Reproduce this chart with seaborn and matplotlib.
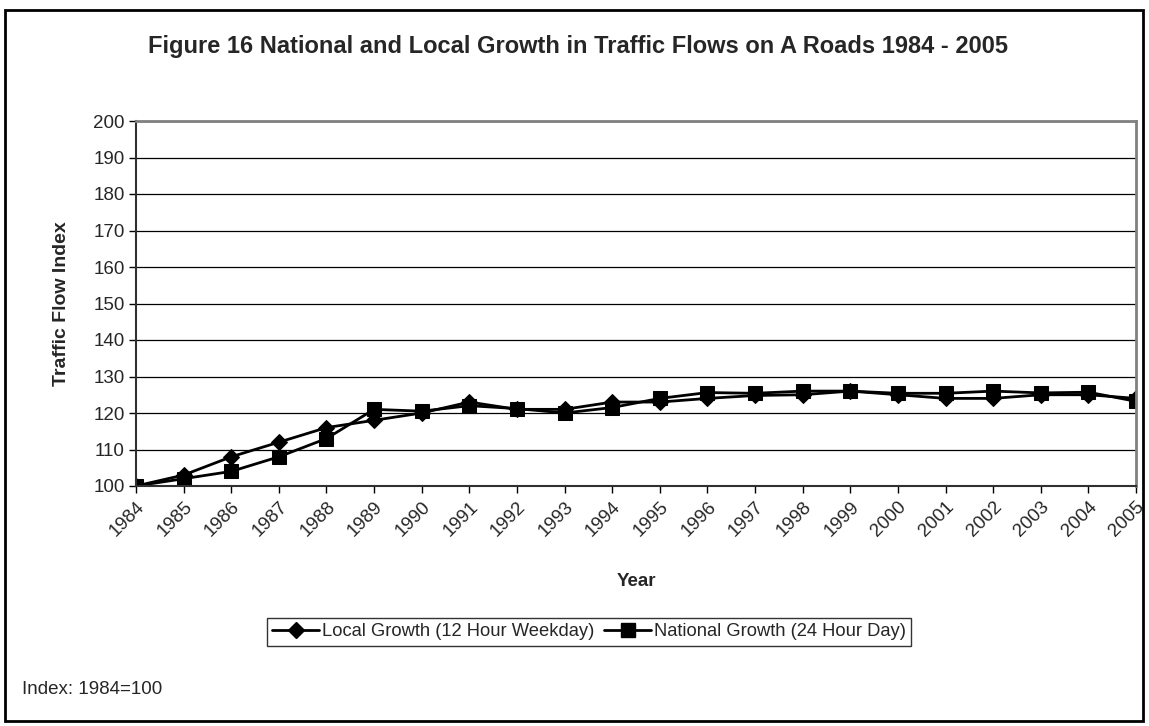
import matplotlib
matplotlib.use("Agg")
import matplotlib.pyplot as plt
import seaborn as sns
import pandas as pd
from matplotlib.patches import Rectangle
from matplotlib.lines import Line2D

years = list(range(1984, 2006))
local_growth = [100, 103, 108, 112, 116, 118, 120, 123, 121, 121, 123, 123,
                124, 124.8, 125, 126, 125, 124, 124, 125, 125, 124]
national_growth = [100, 102, 104, 108, 113, 121, 120.5, 122, 121.2, 120, 121.5, 124,
                   125.6, 125.4, 126, 126, 125.4, 125.4, 126, 125.5, 125.7, 123.2]
local_label = "Local Growth (12 Hour Weekday)"
national_label = "National Growth (24 Hour Day)"
title = "Figure 16 National and Local Growth in Traffic Flows on A Roads 1984 - 2005"

sns.set_style("white")
plt.rcParams['font.family'] = ['Liberation Sans', 'DejaVu Sans']

df = pd.DataFrame({"Year": years, "Local": local_growth, "National": national_growth})

W, H = 1149, 726
fig = plt.figure(figsize=(W / 100, H / 100), dpi=100)
ax_l, ax_r, ax_t, ax_b = 136, 1136, 121, 486
ax = fig.add_axes([ax_l / W, 1 - ax_b / H, (ax_r - ax_l) / W, (ax_b - ax_t) / H])

sns.lineplot(data=df, x="Year", y="Local", ax=ax, color="black", lw=2,
             marker="D", markersize=7.8, markeredgecolor="black", label=local_label, legend=False)
sns.lineplot(data=df, x="Year", y="National", ax=ax, color="black", lw=2,
             marker="s", markersize=10, markeredgecolor="black", label=national_label, legend=False)

ax.set_xlim(1984, 2005)
ax.set_ylim(100, 200)
ax.set_yticks(range(100, 201, 10))
ax.set_xticks(years)
ax.set_xticklabels([str(y) for y in years], rotation=45, ha="right",
                   rotation_mode="anchor", fontsize=13.5)
ax.tick_params(axis="y", labelsize=13.5, length=5, width=1, color="black", direction="out", left=True, pad=3)
ax.tick_params(axis="x", length=5, width=1, color="black", direction="out", bottom=True, pad=4)
ax.grid(axis="y", color="black", lw=0.9)
ax.set_axisbelow(True)
for s in ["top", "right"]:
    ax.spines[s].set_color("#808080")
    ax.spines[s].set_linewidth(2)
for s in ["left", "bottom"]:
    ax.spines[s].set_color("#303030")
    ax.spines[s].set_linewidth(1.5)

ax.set_xlabel("Year", fontsize=13.5, fontweight="bold")
ax.xaxis.set_label_coords(0.5, -(582 - ax_b) / (ax_b - ax_t))
ax.xaxis.label.set_va("center")
ax.set_ylabel("Traffic Flow Index", fontsize=14, fontweight="bold")
ax.yaxis.set_label_coords(-(ax_l - 62) / (ax_r - ax_l), 0.5)
ax.yaxis.label.set_va("center")

fig.text(578 / W, 1 - 46 / H, title, ha="center", va="center", fontsize=17, fontweight="bold")
fig.text(22 / W, 1 - 690 / H, "Index: 1984=100", ha="left", va="center", fontsize=13.5)

handles = [Line2D([], [], color="black", lw=2, marker="D", markersize=7.8),
           Line2D([], [], color="black", lw=2, marker="s", markersize=10)]
leg = fig.legend(handles, [local_label, national_label], loc="center",
                 bbox_to_anchor=(589 / W, 1 - 632 / H), ncol=2, fontsize=13.2,
                 frameon=True, fancybox=False, edgecolor="black", handlelength=2.6,
                 columnspacing=0.5, handletextpad=0.15, borderpad=0.28, borderaxespad=0)
leg.get_frame().set_linewidth(1)

fig.patches.append(Rectangle((5 / W, 5 / H), 1138 / W, 711 / H, transform=fig.transFigure,
                             fill=False, edgecolor="black", lw=2))

fig.savefig("out.png", dpi=100)
